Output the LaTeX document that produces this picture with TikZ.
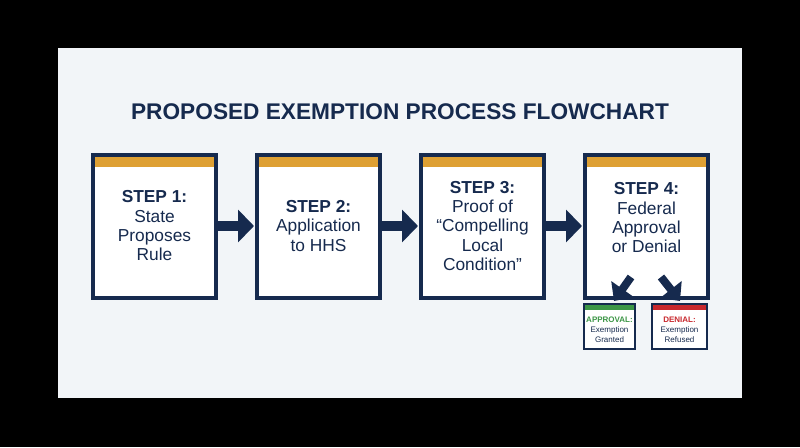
\documentclass[tikz,border=0pt]{standalone}
\usepackage{fontspec}
\setmainfont{Liberation Sans}
\usetikzlibrary{arrows.meta}
\definecolor{navy}{RGB}{22,42,78}
\definecolor{gold}{RGB}{222,160,52}
\definecolor{okgreen}{RGB}{60,150,70}
\definecolor{nored}{RGB}{200,40,45}
\definecolor{panel}{RGB}{242,245,248}
\tikzset{every picture/.style={line width=0.75pt}}
\tikzset{
  stepbox/.style={draw=navy, line width=2.6pt, fill=white},
  steptext/.style={align=center, text=navy, font=\fontsize{13}{14.5}\selectfont},
  bigarrow/.style={draw=navy, line width=8pt, -{Triangle[length=12pt,width=24pt]}},
  downarrow/.style={draw=navy, line width=6pt, -{Triangle[length=11pt,width=20pt]}},
}
\begin{document}
\begin{tikzpicture}[x=0.75pt,y=0.75pt,yscale=-1,xscale=1]
%Background
\fill[black] (0,0) rectangle (800,447);
\fill[panel] (58,48) rectangle (742,398);

%Title
\node (title) at (400,112) [text=navy, font=\bfseries\fontsize{17}{20}\selectfont] {PROPOSED EXEMPTION PROCESS FLOWCHART};

%Step boxes
\foreach \x/\n in {93/a,257/b,421/c,585/d}{
  \draw[stepbox] (\x,155) rectangle (\x+123,298);
  \fill[gold] (\x+1.7,156.7) rectangle (\x+121.3,167);
  \coordinate (\n) at (\x+61.5,226);
}

% Text Node
\node (t1) at (a) [steptext] {\textbf{STEP 1:}\\State\\Proposes\\Rule};
\node (t2) at (b) [steptext] {\textbf{STEP 2:}\\Application\\to HHS};
\node (t3) at (c) [steptext] {\textbf{STEP 3:}\\Proof of\\``Compelling\\Local\\Condition''};
\node (t4) at ([yshift=-6]d) [steptext] {\textbf{STEP 4:}\\Federal\\Approval\\or Denial};

%Horizontal arrows
\coordinate (a1) at (218,226); \coordinate (b0) at (254,226);
\coordinate (b1) at (382,226); \coordinate (c0) at (418,226);
\coordinate (c1) at (546,226); \coordinate (d0) at (582,226);
\draw[bigarrow] (a1) -- (b0);
\draw[bigarrow] (b1) -- (c0);
\draw[bigarrow] (c1) -- (d0);

%Outcome boxes
\draw[stepbox, line width=1.6pt] (584,304) rectangle (635,349);
\fill[okgreen] (585,305) rectangle (634,310);
\draw[stepbox, line width=1.6pt] (652,304) rectangle (707,349);
\fill[nored] (653,305) rectangle (706,310);
\node (ok) at (609.5,330) [align=center, text=navy, font=\fontsize{6}{7.5}\selectfont] {\textcolor{okgreen}{\textbf{APPROVAL:}}\\Exemption\\Granted};
\node (no) at (679.5,330) [align=center, text=navy, font=\fontsize{6}{7.5}\selectfont] {\textcolor{nored}{\textbf{DENIAL:}}\\Exemption\\Refused};

%Down arrows
\coordinate (d1) at (631,277); \coordinate (d2) at (661,277);
\draw[downarrow] (d1) -- (614,301);
\draw[downarrow] (d2) -- (680,301);
\end{tikzpicture}
\end{document}
